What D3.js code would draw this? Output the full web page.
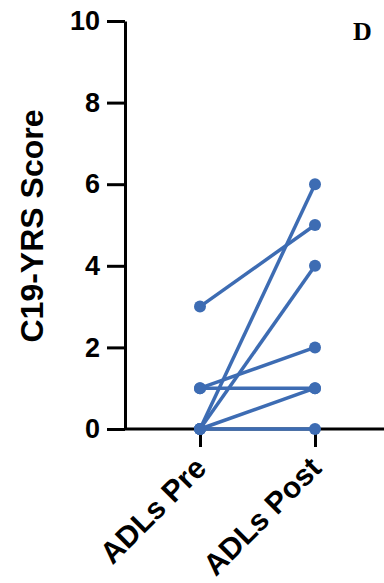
<!DOCTYPE html>
<html>
<head>
<meta charset="utf-8">
<script src="https://cdn.jsdelivr.net/npm/d3@7"></script>
<style>
  body { margin: 0; background: #fff; }
  svg { display: block; }
</style>
</head>
<body>
<div id="chart"></div>
<script>
// paired scores, one entry per subject
let conditions = ["ADLs Pre", "ADLs Post"];
let preScores = [3, 0, 0, 1, 1, 0, 0];
let postScores = [5, 6, 4, 2, 1, 1, 0];
let yTicks = [0, 2, 4, 6, 8, 10];
let yLabel = "C19-YRS Score";
let panelLetter = "D";

let width = 384;
let height = 583;
let blue = "#3d6cb3";

let svg = d3.select("#chart")
  .append("svg")
  .attr("width", width)
  .attr("height", height);

let yScale = d3.scaleLinear()
  .domain([0, 10])
  .range([429, 21]);

let xScale = d3.scalePoint()
  .domain(conditions)
  .range([200, 315]);

// y axis
let yAxis = svg.append("g")
  .attr("transform", "translate(125,0)")
  .call(d3.axisLeft(yScale).tickValues(yTicks).tickSize(18).tickSizeOuter(0).tickPadding(7));

// x axis
let xAxis = svg.append("g")
  .attr("transform", "translate(0," + yScale(0) + ")")
  .call(d3.axisBottom(xScale).tickSize(18).tickSizeOuter(0).tickFormat(""));

xAxis.select(".domain").attr("d", "M125,0H" + width);

svg.selectAll(".domain, .tick line")
  .attr("stroke", "#000")
  .attr("stroke-width", 3);

yAxis.selectAll("text")
  .attr("fill", "#000")
  .style("font", "bold 27px 'Liberation Sans', Arial, sans-serif");

// rotated category labels
svg.selectAll(".xlab")
  .data(conditions)
  .enter()
  .append("text")
  .attr("class", "xlab")
  .attr("text-anchor", "end")
  .attr("transform", d => "translate(" + (xScale(d) + 8) + "," + 470 + ") rotate(-45)")
  .style("font", "bold 30px 'Liberation Sans', Arial, sans-serif")
  .text(d => d);

// y label
svg.append("text")
  .attr("text-anchor", "middle")
  .attr("transform", "translate(43," + 226 + ") rotate(-90)")
  .style("font", "bold 32px 'Liberation Sans', Arial, sans-serif")
  .text(yLabel);

// panel letter
svg.append("text")
  .attr("x", 353)
  .attr("y", 40)
  .style("font", "bold 26px 'Liberation Serif', 'Times New Roman', serif")
  .text(panelLetter);

// connecting lines
let pairs = preScores.map((p, i) => ({ pre: p, post: postScores[i] }));

svg.selectAll(".pair")
  .data(pairs)
  .enter()
  .append("line")
  .attr("class", "pair")
  .attr("x1", xScale(conditions[0]))
  .attr("x2", xScale(conditions[1]))
  .attr("y1", d => yScale(d.pre))
  .attr("y2", d => yScale(d.post))
  .attr("stroke", blue)
  .attr("stroke-width", 3.5);

// points
let points = [];
pairs.forEach(d => {
  points.push({ cond: conditions[0], value: d.pre });
  points.push({ cond: conditions[1], value: d.post });
});

svg.selectAll(".point")
  .data(points)
  .enter()
  .append("circle")
  .attr("class", "point")
  .attr("cx", d => xScale(d.cond))
  .attr("cy", d => yScale(d.value))
  .attr("r", 6)
  .attr("fill", blue);
</script>
</body>
</html>
